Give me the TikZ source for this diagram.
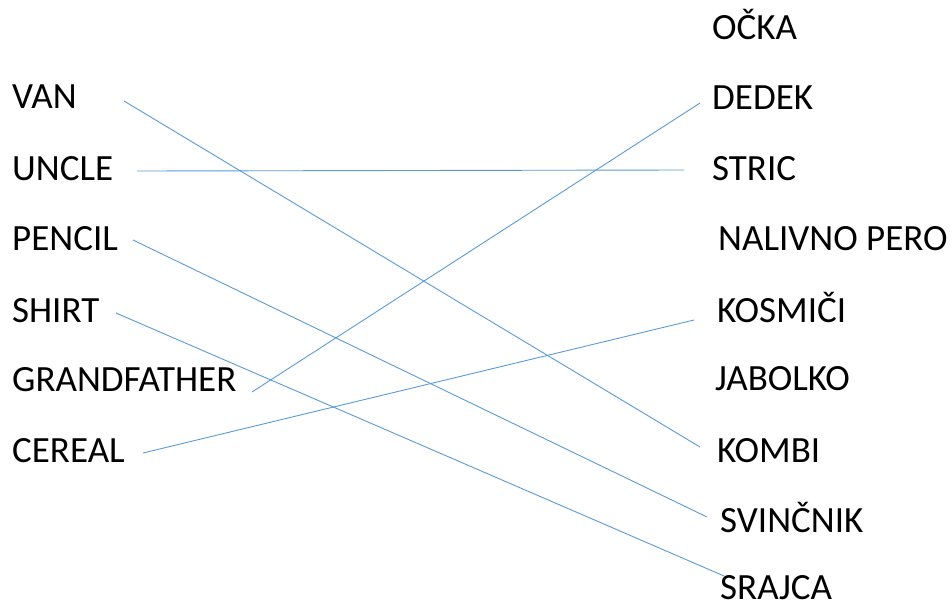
\documentclass[tikz,border=0pt]{standalone}
\usepackage{fontspec}
\setmainfont{Carlito}
\begin{document}
\begin{tikzpicture}[x=1pt,y=-1pt,
  word/.style={anchor=base west,inner sep=0pt,font=\fontsize{37}{44}\selectfont},
  link/.style={draw=linkblue,line width=0.9pt}]
\definecolor{linkblue}{HTML}{5B9BD5}
\useasboundingbox[fill=white] (0,0) rectangle (952,608);
% left column
\node[word] (van)   at (12,108) {VAN};
\node[word] (uncle) at (12,180) {UNCLE};
\node[word] (pencil) at (12,250) {PENCIL};
\node[word] (shirt) at (12,322) {SHIRT};
\node[word] (grand) at (12,391) {GRANDFATHER};
\node[word] (cereal) at (12,462) {CEREAL};
% right column
\node[word] (ocka)  at (712,39) {OČKA};
\node[word] (dedek) at (712,109) {DEDEK};
\node[word] (stric) at (712,180) {STRIC};
\node[word] (pero)  at (718,250) {NALIVNO PERO};
\node[word] (kosmici) at (717,322) {KOSMIČI};
\node[word] (jabolko) at (715,390) {JABOLKO};
\node[word] (kombi) at (717,462) {KOMBI};
\node[word] (svincnik) at (720,532) {SVINČNIK};
\node[word] (srajca) at (720,599) {SRAJCA};
% connector ends
\coordinate (vanE) at (124,101);
\coordinate (kombiE) at (700,447);
\coordinate (uncleE) at (137,171);
\coordinate (stricE) at (684,170);
\coordinate (pencilE) at (133,240);
\coordinate (svincnikE) at (707,517);
\coordinate (shirtE) at (116,313);
\coordinate (srajcaE) at (724,576);
\coordinate (grandE) at (252,392);
\coordinate (dedekE) at (700,103);
\coordinate (cerealE) at (143,453);
\coordinate (kosmiciE) at (694,320);
\draw[link] (vanE) -- (kombiE);
\draw[link] (uncleE) -- (stricE);
\draw[link] (pencilE) -- (svincnikE);
\draw[link] (shirtE) -- (srajcaE);
\draw[link] (grandE) -- (dedekE);
\draw[link] (cerealE) -- (kosmiciE);
\end{tikzpicture}
\end{document}
